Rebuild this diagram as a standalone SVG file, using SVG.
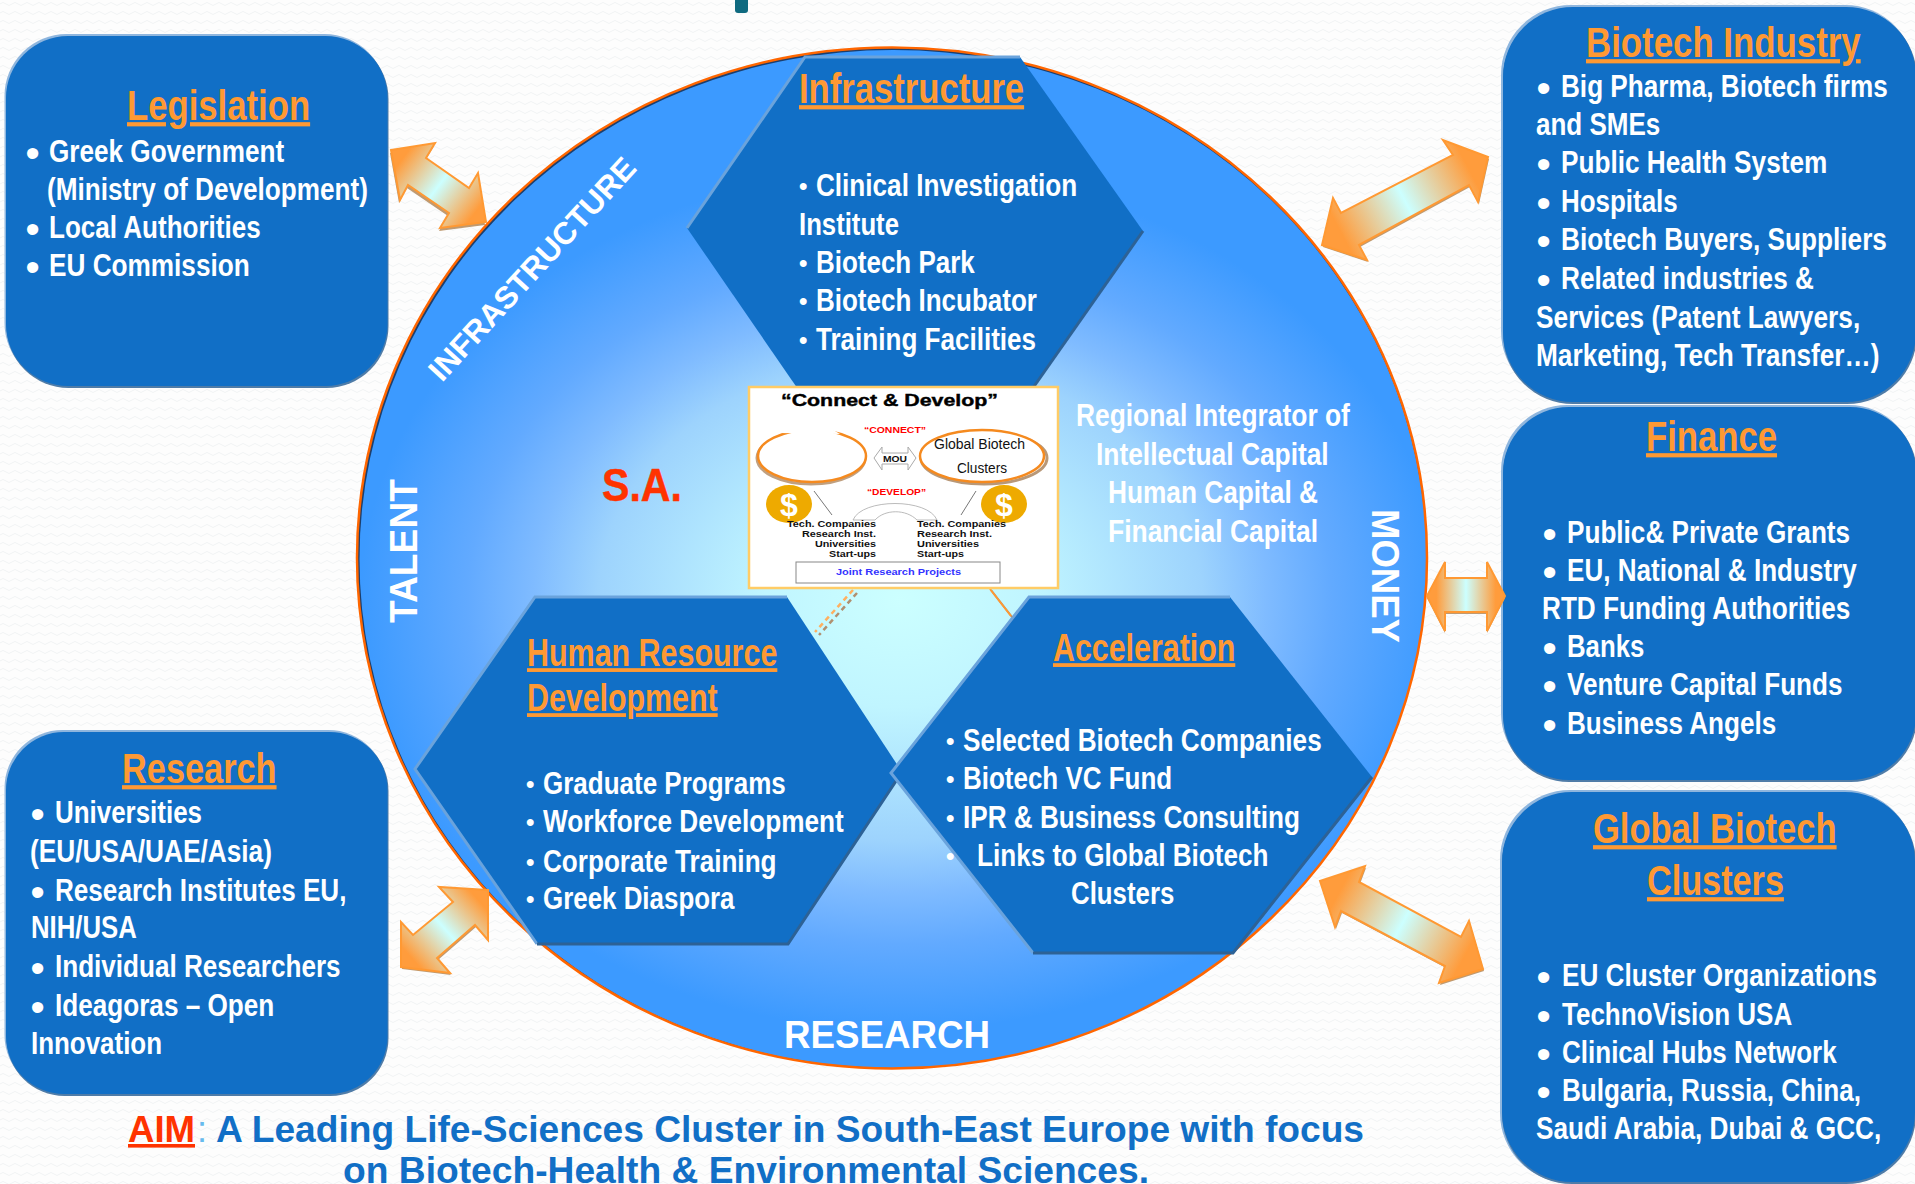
<svg xmlns="http://www.w3.org/2000/svg" xmlns:xlink="http://www.w3.org/1999/xlink" width="1915" height="1184" viewBox="0 0 1915 1184">
<style>
text{font-family:"Liberation Sans",Arial,sans-serif;font-weight:bold}
.t{fill:#fff;font-size:31px}
.h{fill:#ff9933;font-size:42px;text-decoration:underline;text-decoration-skip-ink:none}
.hs{fill:#ff9933;font-size:38px;text-decoration:underline;text-decoration-skip-ink:none}
.bb{fill:#fff;stroke:#fff;stroke-width:2;font-size:32px}
.bs{fill:#fff;font-size:24px}
.ring{fill:#fff;font-size:39px}
.aim{fill:#116fc6;font-size:37px}
.box{fill:#116fc6}
.bl{fill:#8fb6de}
.bd{fill:#4f7ca8}
.hex{fill:#116fc6}
.hl{fill:none;stroke:#6aa3dc;stroke-width:3}
.sd{fill:none;stroke:#2d6296;stroke-width:3}
.ar{stroke:#ff9933;stroke-width:2;stroke-linejoin:miter}
.as{fill:#c09a70}
.m{fill:#111;font-size:8.6px}
.r{fill:#f00;font-size:8.6px}
.g{font-weight:normal;fill:#111;font-size:14px}
</style>
<defs>
<pattern id="bgp" width="12" height="9" patternUnits="userSpaceOnUse"><path d="M0 4Q3 1 6 4T12 4" fill="none" stroke="#f1f3f4" stroke-width="1"/></pattern>
<radialGradient id="disc" gradientUnits="userSpaceOnUse" cx="0" cy="0" r="1" gradientTransform="translate(900 600) scale(540 430)"><stop offset="0" stop-color="#ccffff"/><stop offset="0.25" stop-color="#c0f5ff"/><stop offset="0.56" stop-color="#9dd3fd"/><stop offset="0.68" stop-color="#7fbbff"/><stop offset="0.8" stop-color="#62aaff"/><stop offset="1" stop-color="#3c9aff"/></radialGradient>
<linearGradient id="ag"><stop offset="0.12" stop-color="#ff9c3c"/><stop offset="0.5" stop-color="#ccffff"/><stop offset="0.88" stop-color="#ff9c3c"/></linearGradient>
<linearGradient id="a1" xlink:href="#ag" gradientUnits="userSpaceOnUse" x1="391" y1="150" x2="486" y2="222"/>
<linearGradient id="a2" xlink:href="#ag" gradientUnits="userSpaceOnUse" x1="1488" y1="157" x2="1322" y2="245"/>
<linearGradient id="a3" xlink:href="#ag" gradientUnits="userSpaceOnUse" x1="1427" y1="596" x2="1505" y2="596"/>
<linearGradient id="a4" xlink:href="#ag" gradientUnits="userSpaceOnUse" x1="1320" y1="881" x2="1483" y2="969"/>
<linearGradient id="a5" xlink:href="#ag" gradientUnits="userSpaceOnUse" x1="488" y1="890" x2="401" y2="967"/>
</defs>
<rect width="1915" height="1184" fill="#fdfdfd"/>
<rect width="1915" height="1184" fill="url(#bgp)"/>
<path d="M735 0H748V10Q748 13 745 13H738Q735 13 735 10Z" fill="#0f6a80"/>

<g id="disc-node">
<ellipse cx="892" cy="558" rx="535" ry="510.500" fill="#1c3f6e"/>
<ellipse cx="893" cy="559" rx="533.500" ry="509" fill="url(#disc)"/>
<ellipse cx="892" cy="558" rx="535" ry="510.500" fill="none" stroke="#ff6600" stroke-width="2.500"/>
<text class="ring" transform="translate(442 383) rotate(-47.500)" textLength="290" lengthAdjust="spacingAndGlyphs" style="font-size:31px">INFRASTRUCTURE</text>
<text class="ring" transform="translate(417 623) rotate(-90)" textLength="144" lengthAdjust="spacingAndGlyphs">TALENT</text>
<text class="ring" transform="translate(1372 509) rotate(90)" textLength="134" lengthAdjust="spacingAndGlyphs">MONEY</text>
<text class="ring" x="784" y="1048" textLength="206" lengthAdjust="spacingAndGlyphs">RESEARCH</text>
<text x="602" y="501" fill="#ff3300" stroke="#ff3300" stroke-width=".5" style="font-size:46px" textLength="80" lengthAdjust="spacingAndGlyphs">S.A.</text>
<text class="t" transform="translate(1076 426) scale(.84 1)" textLength="326" lengthAdjust="spacingAndGlyphs">Regional Integrator of</text>
<text class="t" transform="translate(1096 465) scale(.84 1)" textLength="277" lengthAdjust="spacingAndGlyphs">Intellectual Capital</text>
<text class="t" transform="translate(1108 503) scale(.84 1)" textLength="250" lengthAdjust="spacingAndGlyphs">Human Capital &amp;</text>
<text class="t" transform="translate(1108 542) scale(.84 1)" textLength="250" lengthAdjust="spacingAndGlyphs">Financial Capital</text>
</g>

<g id="node-infrastructure">
<polygon class="hex" points="805,57 1020,57 1143,231 1028,395 802,395 687,228"/>
<polyline class="hl" points="687,228 805,57 1020,57"/>
<polyline class="sd" points="1143,231 1028,395"/>
<text class="h" transform="translate(799 103) scale(.84 1)" textLength="268" lengthAdjust="spacingAndGlyphs">Infrastructure</text>
<text class="bs" x="799" y="194">•</text><text class="t" transform="translate(816 196) scale(.84 1)" textLength="311" lengthAdjust="spacingAndGlyphs">Clinical Investigation</text>
<text class="t" transform="translate(799 235) scale(.84 1)" textLength="119" lengthAdjust="spacingAndGlyphs">Institute</text>
<text class="bs" x="799" y="271">•</text><text class="t" transform="translate(816 273) scale(.84 1)" textLength="189" lengthAdjust="spacingAndGlyphs">Biotech Park</text>
<text class="bs" x="799" y="309">•</text><text class="t" transform="translate(816 311) scale(.84 1)" textLength="263" lengthAdjust="spacingAndGlyphs">Biotech Incubator</text>
<text class="bs" x="799" y="348">•</text><text class="t" transform="translate(816 350) scale(.84 1)" textLength="262" lengthAdjust="spacingAndGlyphs">Training Facilities</text>
</g>

<g id="node-hr">
<polygon class="hex" points="535,597 787,597 902,772 788,944 537,944 415,769"/>
<polyline class="hl" points="537,944 415,769 535,597 787,597"/>
<polyline class="sd" points="902,772 788,944 537,944"/>
<text class="hs" transform="translate(527 666) scale(.84 1)" textLength="298" lengthAdjust="spacingAndGlyphs">Human Resource</text>
<text class="hs" transform="translate(527 711) scale(.84 1)" textLength="227" lengthAdjust="spacingAndGlyphs">Development</text>
<text class="bs" x="526" y="792">•</text><text class="t" transform="translate(543 794) scale(.84 1)" textLength="289" lengthAdjust="spacingAndGlyphs">Graduate Programs</text>
<text class="bs" x="526" y="830">•</text><text class="t" transform="translate(543 832) scale(.84 1)" textLength="358" lengthAdjust="spacingAndGlyphs">Workforce Development</text>
<text class="bs" x="526" y="870">•</text><text class="t" transform="translate(543 872) scale(.84 1)" textLength="278" lengthAdjust="spacingAndGlyphs">Corporate Training</text>
<text class="bs" x="526" y="907">•</text><text class="t" transform="translate(543 909) scale(.84 1)" textLength="228" lengthAdjust="spacingAndGlyphs">Greek Diaspora</text>
</g>

<g id="node-acceleration">
<polygon class="hex" points="1029,597 1230,597 1372,777 1233,953 1033,953 891,773"/>
<polyline class="hl" points="1033,953 891,773 1029,597 1230,597"/>
<polyline class="sd" points="1372,777 1233,953 1033,953"/>
<text class="hs" transform="translate(1053 661) scale(.84 1)" textLength="217" lengthAdjust="spacingAndGlyphs">Acceleration</text>
<text class="bs" x="946" y="749">•</text><text class="t" transform="translate(963 751) scale(.84 1)" textLength="427" lengthAdjust="spacingAndGlyphs">Selected Biotech Companies</text>
<text class="bs" x="946" y="787">•</text><text class="t" transform="translate(963 789) scale(.84 1)" textLength="249" lengthAdjust="spacingAndGlyphs">Biotech VC Fund</text>
<text class="bs" x="946" y="826">•</text><text class="t" transform="translate(963 828) scale(.84 1)" textLength="401" lengthAdjust="spacingAndGlyphs">IPR &amp; Business Consulting</text>
<text class="bs" x="946" y="864">•</text><text class="t" transform="translate(977 866) scale(.84 1)" textLength="347" lengthAdjust="spacingAndGlyphs">Links to Global Biotech</text>
<text class="t" transform="translate(1071 904) scale(.84 1)" textLength="123" lengthAdjust="spacingAndGlyphs">Clusters</text>
</g>

<g id="node-legislation">
<rect class="bl" x="4.500" y="34" width="382" height="351" rx="62"/>
<rect class="bd" x="6.500" y="37" width="382" height="351" rx="62"/>
<rect class="box" x="6" y="36" width="381.500" height="350" rx="62"/>
<text class="h" transform="translate(127 120) scale(.84 1)" textLength="218" lengthAdjust="spacingAndGlyphs">Legislation</text>
<text class="bb" x="27" y="164">•</text><text class="t" transform="translate(49 162) scale(.84 1)" textLength="280" lengthAdjust="spacingAndGlyphs">Greek Government</text>
<text class="t" transform="translate(47 200) scale(.84 1)" textLength="382" lengthAdjust="spacingAndGlyphs">(Ministry of Development)</text>
<text class="bb" x="27" y="240">•</text><text class="t" transform="translate(49 238) scale(.84 1)" textLength="252" lengthAdjust="spacingAndGlyphs">Local Authorities</text>
<text class="bb" x="27" y="278">•</text><text class="t" transform="translate(49 276) scale(.84 1)" textLength="239" lengthAdjust="spacingAndGlyphs">EU Commission</text>
</g>

<g id="node-research">
<rect class="bl" x="4.500" y="730" width="382" height="363" rx="58"/>
<rect class="bd" x="6.500" y="733" width="382" height="363" rx="58"/>
<rect class="box" x="6" y="732" width="381.500" height="362" rx="58"/>
<text class="h" transform="translate(122 783) scale(.84 1)" textLength="184" lengthAdjust="spacingAndGlyphs">Research</text>
<text class="bb" x="32" y="825">•</text><text class="t" transform="translate(55 823) scale(.84 1)" textLength="175" lengthAdjust="spacingAndGlyphs">Universities</text>
<text class="t" transform="translate(30 862) scale(.84 1)" textLength="288" lengthAdjust="spacingAndGlyphs">(EU/USA/UAE/Asia)</text>
<text class="bb" x="32" y="903">•</text><text class="t" transform="translate(55 901) scale(.84 1)" textLength="347" lengthAdjust="spacingAndGlyphs">Research Institutes EU,</text>
<text class="t" transform="translate(31 938) scale(.84 1)" textLength="126" lengthAdjust="spacingAndGlyphs">NIH/USA</text>
<text class="bb" x="32" y="979">•</text><text class="t" transform="translate(55 977) scale(.84 1)" textLength="340" lengthAdjust="spacingAndGlyphs">Individual Researchers</text>
<text class="bb" x="32" y="1018">•</text><text class="t" transform="translate(55 1016) scale(.84 1)" textLength="261" lengthAdjust="spacingAndGlyphs">Ideagoras – Open</text>
<text class="t" transform="translate(31 1054) scale(.84 1)" textLength="156" lengthAdjust="spacingAndGlyphs">Innovation</text>
</g>

<g id="node-biotech-industry">
<rect class="bl" x="1501" y="5" width="414" height="396" rx="70"/>
<rect class="bd" x="1503" y="8" width="414" height="396" rx="70"/>
<rect class="box" x="1503" y="7" width="413" height="395" rx="70"/>
<text class="h" transform="translate(1586 57) scale(.84 1)" textLength="327" lengthAdjust="spacingAndGlyphs">Biotech Industry</text>
<text class="bb" x="1538" y="99">•</text><text class="t" transform="translate(1561 97) scale(.84 1)" textLength="389" lengthAdjust="spacingAndGlyphs">Big Pharma, Biotech firms</text>
<text class="t" transform="translate(1536 135) scale(.84 1)" textLength="148" lengthAdjust="spacingAndGlyphs">and SMEs</text>
<text class="bb" x="1538" y="175">•</text><text class="t" transform="translate(1561 173) scale(.84 1)" textLength="317" lengthAdjust="spacingAndGlyphs">Public Health System</text>
<text class="bb" x="1538" y="214">•</text><text class="t" transform="translate(1561 212) scale(.84 1)" textLength="139" lengthAdjust="spacingAndGlyphs">Hospitals</text>
<text class="bb" x="1538" y="252">•</text><text class="t" transform="translate(1561 250) scale(.84 1)" textLength="388" lengthAdjust="spacingAndGlyphs">Biotech Buyers, Suppliers</text>
<text class="bb" x="1538" y="291">•</text><text class="t" transform="translate(1561 289) scale(.84 1)" textLength="301" lengthAdjust="spacingAndGlyphs">Related industries &amp;</text>
<text class="t" transform="translate(1536 328) scale(.84 1)" textLength="386" lengthAdjust="spacingAndGlyphs">Services (Patent Lawyers,</text>
<text class="t" transform="translate(1536 366) scale(.84 1)" textLength="409" lengthAdjust="spacingAndGlyphs">Marketing, Tech Transfer…)</text>
</g>

<g id="node-finance">
<rect class="bl" x="1501" y="405" width="414" height="374" rx="66"/>
<rect class="bd" x="1503" y="408" width="414" height="374" rx="66"/>
<rect class="box" x="1503" y="407" width="413" height="373" rx="66"/>
<text class="h" transform="translate(1646 451) scale(.84 1)" textLength="156" lengthAdjust="spacingAndGlyphs">Finance</text>
<text class="bb" x="1544" y="545">•</text><text class="t" transform="translate(1567 543) scale(.84 1)" textLength="337" lengthAdjust="spacingAndGlyphs">Public&amp; Private Grants</text>
<text class="bb" x="1544" y="583">•</text><text class="t" transform="translate(1567 581) scale(.84 1)" textLength="345" lengthAdjust="spacingAndGlyphs">EU, National &amp; Industry</text>
<text class="t" transform="translate(1542 619) scale(.84 1)" textLength="367" lengthAdjust="spacingAndGlyphs">RTD Funding Authorities</text>
<text class="bb" x="1544" y="659">•</text><text class="t" transform="translate(1567 657) scale(.84 1)" textLength="92" lengthAdjust="spacingAndGlyphs">Banks</text>
<text class="bb" x="1544" y="697">•</text><text class="t" transform="translate(1567 695) scale(.84 1)" textLength="328" lengthAdjust="spacingAndGlyphs">Venture Capital Funds</text>
<text class="bb" x="1544" y="736">•</text><text class="t" transform="translate(1567 734) scale(.84 1)" textLength="249" lengthAdjust="spacingAndGlyphs">Business Angels</text>
</g>

<g id="node-global-clusters">
<rect class="bl" x="1500" y="790" width="414" height="393" rx="70"/>
<rect class="bd" x="1502" y="793" width="414" height="391" rx="70"/>
<rect class="box" x="1502" y="792" width="413" height="390" rx="70"/>
<text class="h" transform="translate(1593 843) scale(.84 1)" textLength="290" lengthAdjust="spacingAndGlyphs">Global Biotech</text>
<text class="h" transform="translate(1647 895) scale(.84 1)" textLength="163" lengthAdjust="spacingAndGlyphs">Clusters</text>
<text class="bb" x="1538" y="988">•</text><text class="t" transform="translate(1562 986) scale(.84 1)" textLength="375" lengthAdjust="spacingAndGlyphs">EU Cluster Organizations</text>
<text class="bb" x="1538" y="1027">•</text><text class="t" transform="translate(1562 1025) scale(.84 1)" textLength="274" lengthAdjust="spacingAndGlyphs">TechnoVision USA</text>
<text class="bb" x="1538" y="1065">•</text><text class="t" transform="translate(1562 1063) scale(.84 1)" textLength="327" lengthAdjust="spacingAndGlyphs">Clinical Hubs Network</text>
<text class="bb" x="1538" y="1103">•</text><text class="t" transform="translate(1562 1101) scale(.84 1)" textLength="356" lengthAdjust="spacingAndGlyphs">Bulgaria, Russia, China,</text>
<text class="t" transform="translate(1536 1139) scale(.84 1)" textLength="411" lengthAdjust="spacingAndGlyphs">Saudi Arabia, Dubai &amp; GCC,</text>
</g>

<g id="connectors">
<g id="arrow-legislation"><polygon class="as" transform="translate(-1 3)" points="391,150 435,143 426,158 469,188 478,173 486,222 440,228 449,213 408,185 400,200"/><polygon class="ar" fill="url(#a1)" points="391,150 435,143 426,158 469,188 478,173 486,222 440,228 449,213 408,185 400,200"/></g>
<g id="arrow-biotech"><polygon class="as" transform="translate(1 2)" points="1488,157 1443,140 1453,155 1341,213 1333,198 1322,245 1367,260 1359,245 1469,185 1478,202"/><polygon class="ar" fill="url(#a2)" points="1488,157 1443,140 1453,155 1341,213 1333,198 1322,245 1367,260 1359,245 1469,185 1478,202"/></g>
<g id="arrow-finance"><polygon class="as" transform="translate(0 2)" points="1427,596 1445,562 1445,578 1487,578 1487,562 1505,596 1487,631 1487,612 1445,612 1445,631"/><polygon class="ar" fill="url(#a3)" points="1427,596 1445,562 1445,578 1487,578 1487,562 1505,596 1487,631 1487,612 1445,612 1445,631"/></g>
<g id="arrow-global"><polygon class="as" transform="translate(1 2)" points="1320,881 1365,866 1359,882 1461,937 1469,921 1483,969 1439,983 1445,966 1341,911 1335,927"/><polygon class="ar" fill="url(#a4)" points="1320,881 1365,866 1359,882 1461,937 1469,921 1483,969 1439,983 1445,966 1341,911 1335,927"/></g>
<g id="arrow-research"><polygon class="as" transform="translate(1 2)" points="488,890 439,887 453,902 413,935 401,922 401,967 450,973 437,958 475,925 488,940"/><polygon class="ar" fill="url(#a5)" points="488,890 439,887 453,902 413,935 401,922 401,967 450,973 437,958 475,925 488,940"/></g>
<g id="dash-left" fill="none" stroke-width="2.500" stroke-dasharray="5 4"><path d="M853 590L815 632" stroke="#ffb060"/><path d="M857 593L819 635" stroke="#b09070"/></g>
<g id="dash-right" fill="none" stroke-width="2"><path d="M991 590L1012 617" stroke="#b09070"/><path d="M990 589L1011 616" stroke="#ff9933"/></g>
</g>

<g id="node-connect-develop">
<rect x="749" y="387" width="309" height="201" fill="#fff" stroke="#ffcc66" stroke-width="2.500"/>
<text x="781" y="406" fill="#000" stroke="#000" stroke-width=".4" style="font-size:16px" textLength="217" lengthAdjust="spacingAndGlyphs">“Connect &amp; Develop”</text>
<text class="r" x="864" y="433" textLength="62" lengthAdjust="spacingAndGlyphs">“CONNECT”</text>
<ellipse cx="811" cy="458" rx="54" ry="26" fill="none" stroke="#c0a080" stroke-width="3"/>
<ellipse cx="812" cy="456" rx="54" ry="26" fill="#fff" stroke="#f58a1f" stroke-width="2.500"/>
<path d="M779 433Q783 428 792 428H830L840 434Z" fill="#fff"/>
<ellipse cx="984" cy="458" rx="63" ry="26" fill="none" stroke="#b89878" stroke-width="3"/>
<ellipse cx="982" cy="456" rx="62" ry="26" fill="#fff" stroke="#f58a1f" stroke-width="2.500"/>
<text class="g" x="934" y="449" textLength="91" lengthAdjust="spacingAndGlyphs">Global Biotech</text>
<text class="g" x="957" y="473" textLength="50" lengthAdjust="spacingAndGlyphs">Clusters</text>
<polygon points="874,458 882,447 882,453 908,453 908,447 916,458 908,470 908,464 882,464 882,470" fill="#fff" stroke="#aaa" stroke-width="1"/>
<text class="m" x="883" y="462" textLength="24" lengthAdjust="spacingAndGlyphs">MOU</text>
<text class="r" x="867" y="495" textLength="59" lengthAdjust="spacingAndGlyphs">“DEVELOP”</text>
<ellipse cx="789" cy="504" rx="23" ry="19" fill="#eeaa00"/>
<ellipse cx="1004" cy="504" rx="23" ry="19" fill="#eeaa00"/>
<text x="789" y="516" text-anchor="middle" fill="#fff" style="font-size:32px">$</text>
<text x="1004" y="516" text-anchor="middle" fill="#fff" style="font-size:32px">$</text>
<path d="M814 491L832 515M976 491L961 515" stroke="#777" stroke-width="1" fill="none"/>
<path d="M853 520C862 498 928 498 937 520H917C906 509 885 509 875 520Z" fill="#fff" stroke="#aaa" stroke-width=".8"/>
<text class="m" x="787" y="527" textLength="89" lengthAdjust="spacingAndGlyphs">Tech. Companies</text>
<text class="m" x="802" y="537" textLength="74" lengthAdjust="spacingAndGlyphs">Research Inst.</text>
<text class="m" x="815" y="547" textLength="61" lengthAdjust="spacingAndGlyphs">Universities</text>
<text class="m" x="829" y="557" textLength="47" lengthAdjust="spacingAndGlyphs">Start-ups</text>
<text class="m" x="917" y="527" textLength="89" lengthAdjust="spacingAndGlyphs">Tech. Companies</text>
<text class="m" x="917" y="537" textLength="75" lengthAdjust="spacingAndGlyphs">Research Inst.</text>
<text class="m" x="917" y="547" textLength="62" lengthAdjust="spacingAndGlyphs">Universities</text>
<text class="m" x="917" y="557" textLength="47" lengthAdjust="spacingAndGlyphs">Start-ups</text>
<rect x="796" y="562" width="204" height="21" fill="#fff" stroke="#888" stroke-width="1"/>
<text x="836" y="575" fill="#3333ff" style="font-size:8.6px" textLength="125" lengthAdjust="spacingAndGlyphs">Joint Research Projects</text>
</g>

<g id="aim-caption">
<text x="128" y="1142" fill="#ff3300" style="font-size:36px;text-decoration:underline;text-decoration-skip-ink:none" textLength="67" lengthAdjust="spacingAndGlyphs">AIM</text>
<text x="197" y="1142" fill="#66bbee" style="font-size:36px;font-weight:normal">:</text>
<text class="aim" x="216" y="1142" textLength="1148" lengthAdjust="spacingAndGlyphs">A Leading Life-Sciences Cluster in South-East Europe with focus</text>
<text class="aim" x="343" y="1183" textLength="806" lengthAdjust="spacingAndGlyphs">on Biotech-Health &amp; Environmental Sciences.</text>
</g>
</svg>
